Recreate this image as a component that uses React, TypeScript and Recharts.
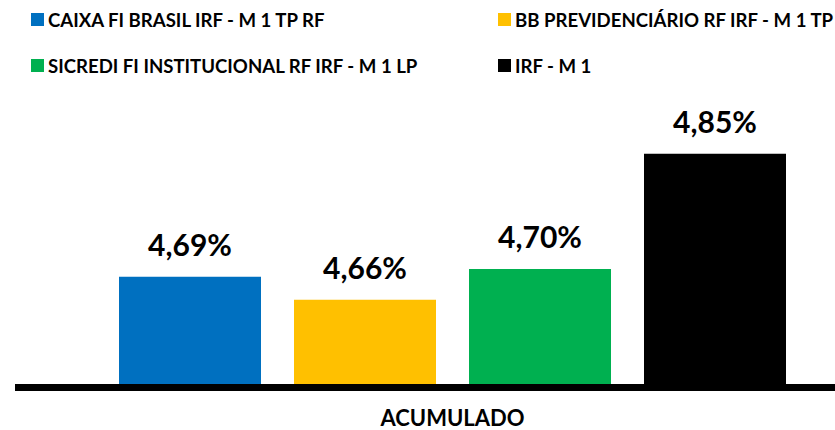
import { BarChart, Bar, XAxis, YAxis, Legend, LabelList } from 'recharts';

const categories = ['ACUMULADO'];
const seriesKeys = ['caixa', 'bb', 'sicredi', 'irf'];
const seriesNames = [
  'CAIXA FI BRASIL IRF - M 1 TP RF',
  'BB PREVIDENCIÁRIO RF IRF - M 1 TP',
  'SICREDI FI INSTITUCIONAL RF IRF - M 1 LP',
  'IRF - M 1',
];
const caixaValues = [4.69];
const bbValues = [4.66];
const sicrediValues = [4.7];
const irfValues = [4.85];
const seriesColors = ['#0070C0', '#FFC000', '#00B050', '#000000'];

const data = categories.map((name, i) => ({
  name,
  caixa: caixaValues[i],
  bb: bbValues[i],
  sicredi: sicrediValues[i],
  irf: irfValues[i],
}));

const fmt = (v: any) => `${Number(v).toFixed(2).replace('.', ',')}%`;

// 2x2 legend grid like the original, kept in series order
const renderLegend = (props: any) => {
  const items = [...(props.payload || [])].sort(
    (a: any, b: any) => seriesNames.indexOf(a.value) - seriesNames.indexOf(b.value)
  );
  return (
    <div style={{ position: 'relative', width: 835, height: 90 }}>
      {items.map((item: any, i: number) => (
        <div
          key={item.value}
          style={{
            position: 'absolute',
            left: i % 2 === 0 ? 31 : 498,
            top: Math.floor(i / 2) * 46 + 8,
            height: 23,
            display: 'flex',
            alignItems: 'center',
            whiteSpace: 'nowrap',
          }}
        >
          <span style={{ width: 13, height: 13, background: item.color, display: 'inline-block', marginRight: 4 }} />
          <span style={{ fontSize: 18.6, fontWeight: 700, color: '#000' }}>{item.value}</span>
        </div>
      ))}
    </div>
  );
};

export default function App() {
  return (
    <div
      style={{
        position: 'absolute',
        left: 0,
        top: 0,
        width: 835,
        height: 430,
        overflow: 'hidden',
        background: '#fff',
        fontFamily: 'Lato, sans-serif',
      }}
    >
      <BarChart
        width={890}
        height={430}
        data={data}
        margin={{ top: 110, right: 0, bottom: 0, left: 15 }}
        barSize={142}
        barGap={33}
      >
        <YAxis hide domain={[4.546, 4.907]} allowDataOverflow />
        {seriesKeys.map((key, i) => (
          <Bar key={key} dataKey={key} name={seriesNames[i]} fill={seriesColors[i]} isAnimationActive={false}>
            <LabelList
              dataKey={key}
              position="top"
              offset={21}
              formatter={fmt}
              style={{ fontSize: 30, fontWeight: 700, fill: '#000', fontFamily: 'Lato, sans-serif' }}
            />
          </Bar>
        ))}
        <XAxis
          dataKey="name"
          height={42.5}
          axisLine={{ stroke: '#000', strokeWidth: 7 }}
          tickLine={false}
          tickSize={0}
          tickMargin={23}
          tick={{ fontSize: 22, fontWeight: 700, fill: '#000', fontFamily: 'Lato, sans-serif' }}
        />
        <Legend
          layout="horizontal"
          verticalAlign="middle"
          align="center"
          wrapperStyle={{ top: 0, left: 0, width: 835, height: 90 }}
          content={renderLegend}
        />
      </BarChart>
    </div>
  );
}
